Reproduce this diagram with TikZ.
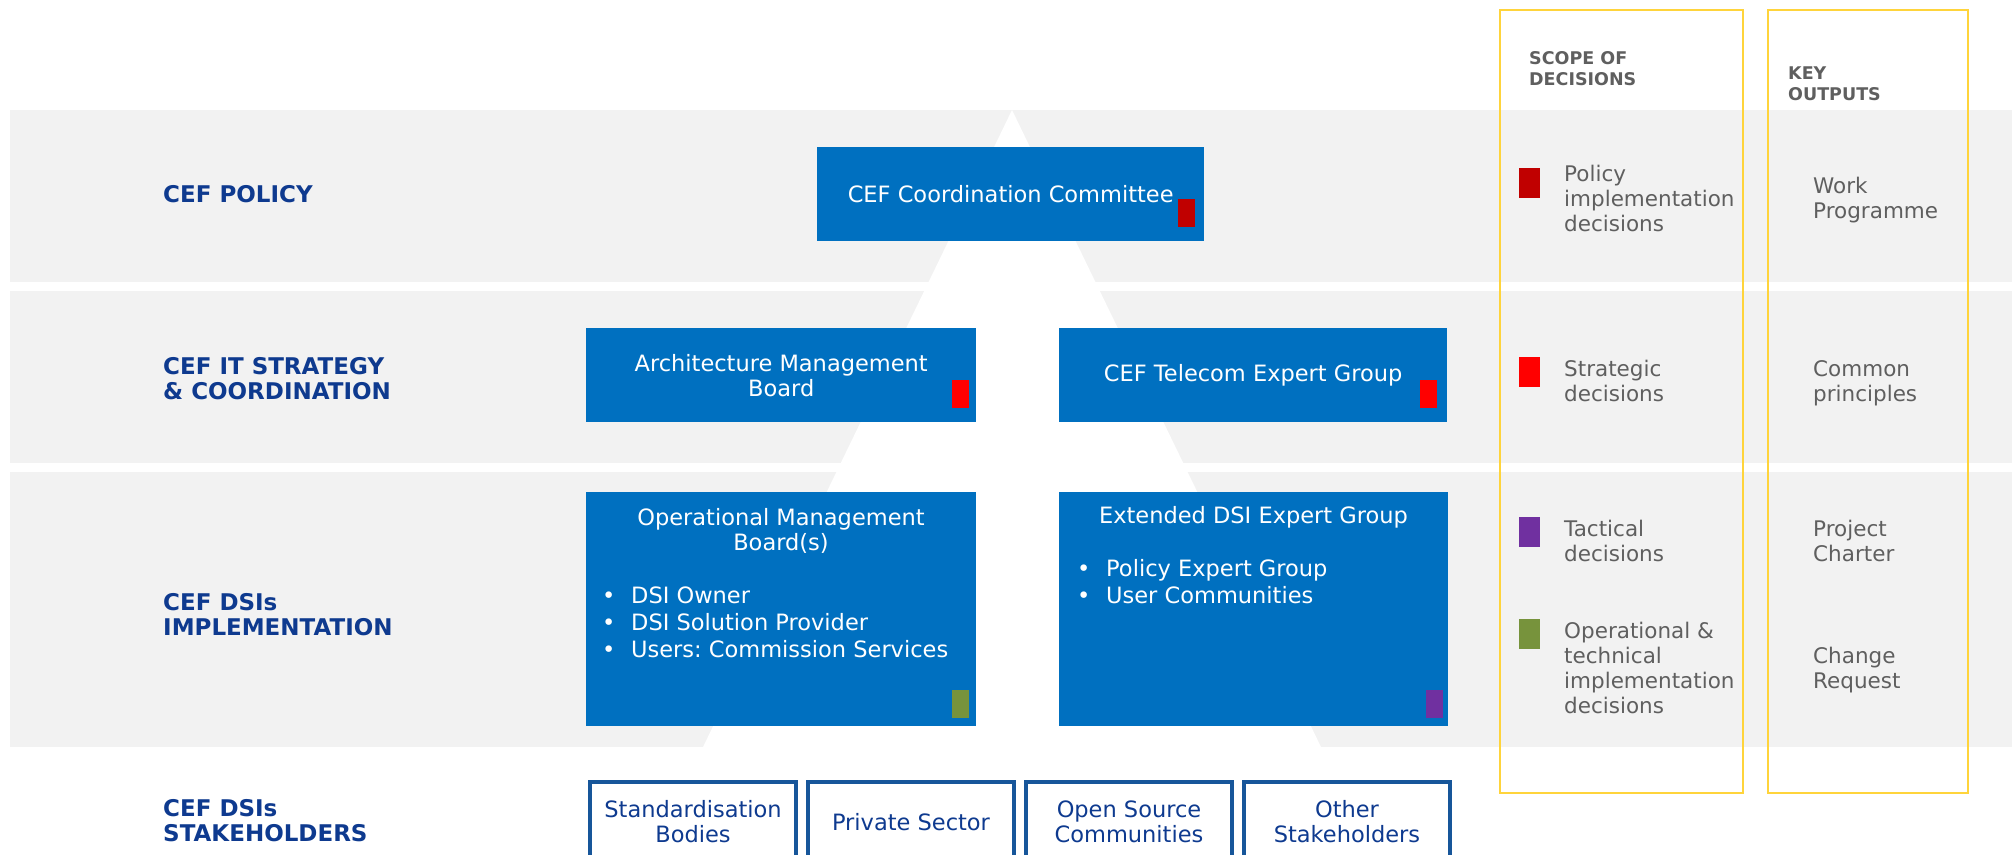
\documentclass[tikz,border=0pt]{standalone}
\usepackage{fontspec}
\usepackage{xcolor}
\usepackage{tikz}
\setmainfont{DejaVu Sans}
\usetikzlibrary{positioning,calc}

\definecolor{bandgray}{HTML}{F2F2F2}
\definecolor{boxblue}{HTML}{0070C0}
\definecolor{eublue}{HTML}{0E3A8F}
\definecolor{stakeblue}{HTML}{17569A}
\definecolor{notegray}{HTML}{5F5F5F}
\definecolor{gold}{HTML}{FFD43B}
\definecolor{darkred}{HTML}{C00000}
\definecolor{brightred}{HTML}{FF0000}
\definecolor{tactical}{HTML}{7030A0}
\definecolor{operational}{HTML}{77933C}

\newcommand{\blt}{\makebox[29pt][l]{•}}
\frenchspacing

\begin{document}
\begin{tikzpicture}[x=1pt, y=-1pt,
    layer/.style={font=\bfseries\fontsize{23}{25}\selectfont, text=eublue, align=left, anchor=base west, inner sep=0pt},
    bluebox/.style={fill=boxblue, text=white, font=\fontsize{22.5}{25}\selectfont, align=center, inner sep=0pt, anchor=north west},
    boxtext/.style={text=white, font=\fontsize{22.5}{25}\selectfont, align=center, anchor=base, inner sep=0pt},
    bullets/.style={text=white, font=\fontsize{22.5}{27}\selectfont, align=left, anchor=base west, inner sep=0pt},
    stakebox/.style={draw=stakeblue, line width=4pt, text=eublue, font=\fontsize{22.5}{25}\selectfont, align=center, inner sep=0pt, anchor=north west, minimum width=206pt, minimum height=80pt},
    colhead/.style={font=\bfseries\fontsize{17.5}{21.4}\selectfont, text=notegray, align=left, anchor=base west, inner sep=0pt},
    note/.style={font=\fontsize{21.5}{25}\selectfont, text=notegray, align=left, anchor=base west, inner sep=0pt}]

    \useasboundingbox (0,0) rectangle (2015,854);

    % Layers (text nodes sit on the baseline of their last line)
    \fill[bandgray] (10,110) rectangle (2012,282);
    \fill[bandgray] (10,291) rectangle (2012,463);
    \fill[bandgray] (10,472) rectangle (2012,747);
    \fill[white] (1012,110) -- (703,747) -- (1321,747) -- cycle;

    \node[layer] (policy) at (163,202) {CEF POLICY};
    \node[layer] (strategy) at (163,399.5) {CEF IT STRATEGY\\\& COORDINATION};
    \node[layer] (implementation) at (163,635) {CEF DSIs\\IMPLEMENTATION};
    \node[layer] (stakeholders) at (163,841) {CEF DSIs\\STAKEHOLDERS};

    % Governance bodies
    \node[bluebox, minimum width=387pt, minimum height=94pt] (ccc) at (817,147) {CEF Coordination Committee};
    \node[bluebox, minimum width=390pt, minimum height=94pt] (amb) at (586,328) {Architecture Management\\Board};
    \node[bluebox, minimum width=388pt, minimum height=94pt] (teg) at (1059,328) {CEF Telecom Expert Group};
    \node[bluebox, minimum width=390pt, minimum height=234pt] (omb) at (586,492) {};
    \node[bluebox, minimum width=389pt, minimum height=234pt] (edsi) at (1059,492) {};

    \node[boxtext] (ombtitle) at (781,550) {Operational Management\\Board(s)};
    \node[bullets] (ombitems) at (602,657) {\blt DSI Owner\\\blt DSI Solution Provider\\\blt Users: Commission Services};
    \node[boxtext] (edsititle) at (1253.5,523) {Extended DSI Expert Group};
    \node[bullets] (edsiitems) at (1077,603) {\blt Policy Expert Group\\\blt User Communities};

    % Decision markers
    \fill[darkred] (1178,199) rectangle (1195,227);
    \fill[brightred] (952,380) rectangle (969,408);
    \fill[brightred] (1420,380) rectangle (1437,408);
    \fill[operational] (952,690) rectangle (969,718);
    \fill[tactical] (1426,690) rectangle (1443,718);

    % Stakeholders
    \node[stakebox] (sdo) at (588,780) {Standardisation\\Bodies};
    \node[stakebox] (private) at (806,780) {Private Sector};
    \node[stakebox] (oss) at (1024,780) {Open Source\\Communities};
    \node[stakebox] (others) at (1242,780) {Other\\Stakeholders};

    % Scope of decisions
    \draw[gold, line width=2pt] (1500,10) rectangle (1743,793);
    \node[colhead] (scopehead) at (1529,85.7) {SCOPE OF\\DECISIONS};
    \fill[darkred] (1519,168) rectangle (1540,198);
    \node[note] (scope1) at (1564,231.7) {Policy\\implementation\\decisions};
    \fill[brightred] (1519,357) rectangle (1540,387);
    \node[note] (scope2) at (1564,401) {Strategic\\decisions};
    \fill[tactical] (1519,517) rectangle (1540,547);
    \node[note] (scope3) at (1564,561) {Tactical\\decisions};
    \fill[operational] (1519,619) rectangle (1540,649);
    \node[note] (scope4) at (1564,713) {Operational \&\\technical\\implementation\\decisions};

    % Key outputs
    \draw[gold, line width=2pt] (1768,10) rectangle (1968,793);
    \node[colhead] (outhead) at (1788,100.7) {KEY\\OUTPUTS};
    \node[note] (out1) at (1813,218) {Work\\Programme};
    \node[note] (out2) at (1813,401) {Common\\principles};
    \node[note] (out3) at (1813,561) {Project\\Charter};
    \node[note] (out4) at (1813,688) {Change\\Request};
\end{tikzpicture}
\end{document}
